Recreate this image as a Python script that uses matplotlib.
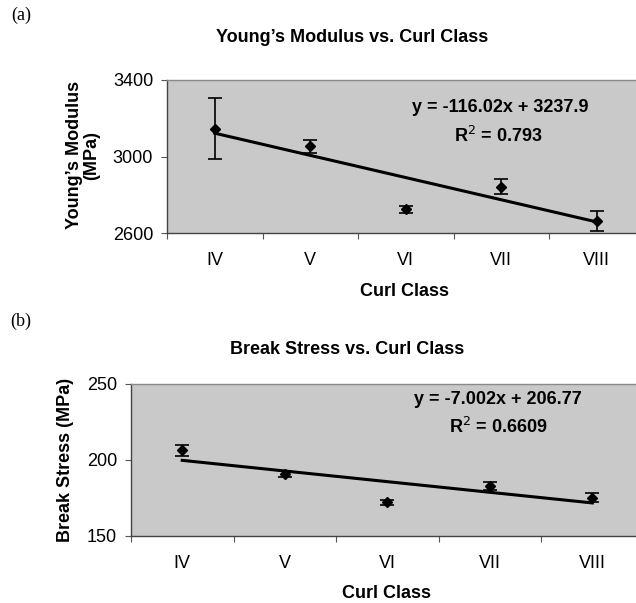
import numpy as np
import matplotlib.pyplot as plt
from matplotlib import font_manager

# pick a narrow sans if we have one
names = set(f.name for f in font_manager.fontManager.ttflist)
sans = 'Liberation Sans Narrow' if 'Liberation Sans Narrow' in names else 'Liberation Sans'
plt.rcParams['font.family'] = [sans, 'DejaVu Sans']

classes = ['IV', 'V', 'VI', 'VII', 'VIII']
x = np.arange(1, 6)

# (a) Young's modulus
ym = [3146, 3053, 2724, 2843, 2664]
ym_err = [160, 34, 19, 40, 52]
ym_fit = (-116.02, 3237.9)

# (b) break stress
bs = [206.3, 190.8, 172.3, 182.8, 175.3]
bs_err = [3.7, 1.8, 1.7, 2.8, 3.2]
bs_fit = (-7.002, 206.77)

W, H = 636, 603
fig = plt.figure(figsize=(W / 100, H / 100), dpi=100)


def px(l, t, r, b):
    return [l / W, 1 - b / H, (r - l) / W, (b - t) / H]


def panel(ax, y, err, fit, ylim, yticks):
    ax.set_facecolor('#c9c9c9')
    ax.errorbar(x, y, yerr=err, fmt='D', color='black', ms=5,
                capsize=5, elinewidth=1.2, capthick=1.2, zorder=3)
    ax.plot(x, fit[0] * x + fit[1], color='black', lw=2.2, zorder=2)
    ax.set_xlim(0.5, 5.5)
    ax.set_ylim(*ylim)
    ax.set_yticks(yticks)
    ax.set_xticks(np.arange(0.5, 5.6, 1.0))
    ax.set_xticklabels([])
    ax.set_xticks(x, minor=True)
    ax.set_xticklabels(classes, minor=True, fontsize=13)
    ax.tick_params(axis='x', which='major', direction='out', length=4, color='#555555')
    ax.tick_params(axis='x', which='minor', length=0, pad=14)
    ax.tick_params(axis='y', direction='out', length=4, pad=6, labelsize=13, color='#555555')
    for s in ['left', 'bottom']:
        ax.spines[s].set_color('#444444')
        ax.spines[s].set_linewidth(1.0)
    ax.spines['top'].set_color('#8a8a8a')
    ax.spines['top'].set_linewidth(1.0)
    ax.spines['right'].set_visible(False)


ax1 = fig.add_axes(px(167, 80, 644.5, 233))
panel(ax1, ym, ym_err, ym_fit, (2600, 3400), [2600, 3000, 3400])
ax2 = fig.add_axes(px(131, 384, 643.5, 536))
panel(ax2, bs, bs_err, bs_fit, (150, 250), [150, 200, 250])

bold = dict(fontsize=13, fontweight='bold', ha='center', va='center')

# panel labels
fig.text(21 / W, 1 - 15 / H, '(a)', family='Liberation Serif', fontsize=13, ha='center', va='center')
fig.text(21 / W, 1 - 321 / H, '(b)', family='Liberation Serif', fontsize=13, ha='center', va='center')

# titles
fig.text(352 / W, 1 - 38 / H, "Young\u2019s Modulus vs. Curl Class", **bold)
fig.text(347 / W, 1 - 349 / H, "Break Stress vs. Curl Class", **bold)

# axis labels
fig.text(405 / W, 1 - 292 / H, 'Curl Class', **bold)
fig.text(387 / W, 1 - 594 / H, 'Curl Class', **bold)
fig.text(83 / W, 1 - 155 / H, "Young\u2019s Modulus\n(MPa)", rotation=90,
         linespacing=1.0, **bold)
fig.text(65 / W, 1 - 460 / H, "Break Stress (MPa)", rotation=90, **bold)

# trendline equations
fig.text(500 / W, 1 - 108 / H, 'y = -116.02x + 3237.9', **bold)
fig.text(498 / W, 1 - 136 / H, 'R$^2$ = 0.793', **bold)
fig.text(498 / W, 1 - 399 / H, 'y = -7.002x + 206.77', **bold)
fig.text(498 / W, 1 - 427 / H, 'R$^2$ = 0.6609', **bold)

fig.savefig('out.png', dpi=100)
